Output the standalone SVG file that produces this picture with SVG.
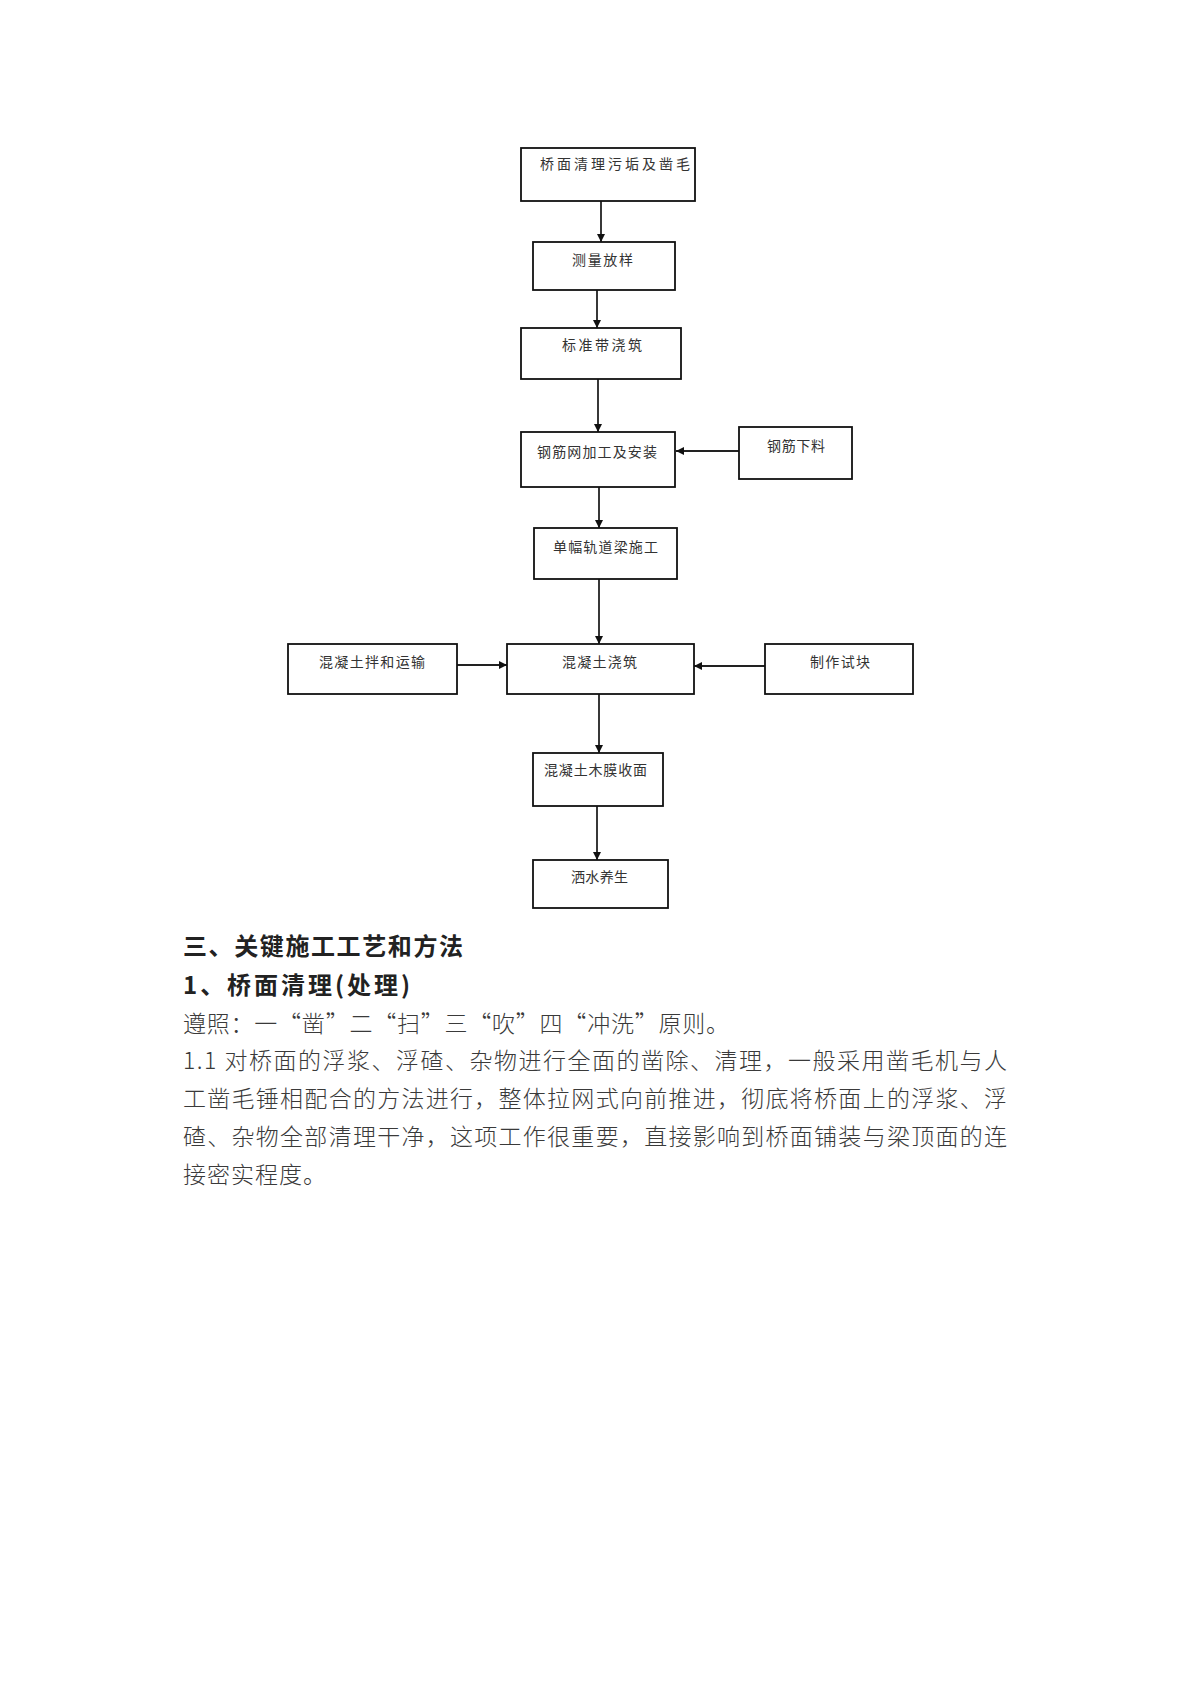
<svg xmlns="http://www.w3.org/2000/svg" width="1200" height="1697" viewBox="0 0 1200 1697">
<defs>
<marker id="ah" markerWidth="10" markerHeight="10" refX="9" refY="5" orient="auto" markerUnits="userSpaceOnUse">
<path d="M1,1 L9,5 L1,9 Z" fill="#111"/>
</marker>
<style>
.box{fill:#fff;stroke:#111;stroke-width:1.8}
.bt{font-family:"Noto Sans CJK SC","Noto Sans",sans-serif;font-size:14px;fill:#333}
.ln{stroke:#222;stroke-width:1.8;fill:none;marker-end:url(#ah)}
.h{font-family:"Noto Sans CJK SC","Noto Sans",sans-serif;font-size:24px;font-weight:bold;fill:#222}
.p{font-family:"Noto Sans CJK SC","Noto Sans",sans-serif;font-size:23px;font-weight:300;fill:#3a3a3a}
</style>
</defs>
<rect width="1200" height="1697" fill="#fff"/>
<g id="connectors">
<line class="ln" x1="601" y1="201" x2="601" y2="242"/>
<line class="ln" x1="597" y1="290" x2="597" y2="328"/>
<line class="ln" x1="598" y1="379" x2="598" y2="432"/>
<line class="ln" x1="739" y1="451" x2="676" y2="451"/>
<line class="ln" x1="599" y1="487" x2="599" y2="528"/>
<line class="ln" x1="599" y1="579" x2="599" y2="644"/>
<line class="ln" x1="457" y1="665" x2="507" y2="665"/>
<line class="ln" x1="765" y1="666" x2="694" y2="666"/>
<line class="ln" x1="599" y1="694" x2="599" y2="753"/>
<line class="ln" x1="597" y1="806" x2="597" y2="860"/>
</g>
<g id="n1"><rect class="box" x="521" y="148" width="174" height="53"/><text class="bt" x="540" y="169" textLength="150" lengthAdjust="spacing">桥面清理污垢及凿毛</text></g>
<g id="n2"><rect class="box" x="533" y="242" width="142" height="48"/><text class="bt" x="572" y="265" textLength="61" lengthAdjust="spacing">测量放样</text></g>
<g id="n3"><rect class="box" x="521" y="328" width="160" height="51"/><text class="bt" x="562" y="350" textLength="80" lengthAdjust="spacing">标准带浇筑</text></g>
<g id="n4"><rect class="box" x="521" y="432" width="154" height="55"/><text class="bt" x="537" y="457" textLength="120" lengthAdjust="spacing">钢筋网加工及安装</text></g>
<g id="n5"><rect class="box" x="739" y="427" width="113" height="52"/><text class="bt" x="767" y="451" textLength="58" lengthAdjust="spacing">钢筋下料</text></g>
<g id="n6"><rect class="box" x="534" y="528" width="143" height="51"/><text class="bt" x="553" y="552" textLength="105" lengthAdjust="spacing">单幅轨道梁施工</text></g>
<g id="n7"><rect class="box" x="288" y="644" width="169" height="50"/><text class="bt" x="319" y="667" textLength="106" lengthAdjust="spacing">混凝土拌和运输</text></g>
<g id="n8"><rect class="box" x="507" y="644" width="187" height="50"/><text class="bt" x="562" y="667" textLength="75" lengthAdjust="spacing">混凝土浇筑</text></g>
<g id="n9"><rect class="box" x="765" y="644" width="148" height="50"/><text class="bt" x="810" y="667" textLength="60" lengthAdjust="spacing">制作试块</text></g>
<g id="n10"><rect class="box" x="533" y="753" width="130" height="53"/><text class="bt" x="544" y="775" textLength="103" lengthAdjust="spacing">混凝土木膜收面</text></g>
<g id="n11"><rect class="box" x="533" y="860" width="135" height="48"/><text class="bt" x="571" y="882" textLength="57" lengthAdjust="spacing">洒水养生</text></g>
<g id="text">
<text class="h" x="183" y="955" textLength="280" lengthAdjust="spacing">三、关键施工工艺和方法</text>
<text class="h" x="183" y="994" textLength="227" lengthAdjust="spacing">1、桥面清理(处理)</text>
<text class="p" x="183" y="1032" textLength="546" lengthAdjust="spacing">遵照：一“凿”二“扫”三“吹”四“冲洗”原则。</text>
<text class="p" x="183" y="1069" textLength="824" lengthAdjust="spacing">1.1 对桥面的浮浆、浮碴、杂物进行全面的凿除、清理，一般采用凿毛机与人</text>
<text class="p" x="183" y="1107" textLength="824" lengthAdjust="spacing">工凿毛锤相配合的方法进行，整体拉网式向前推进，彻底将桥面上的浮浆、浮</text>
<text class="p" x="183" y="1145" textLength="824" lengthAdjust="spacing">碴、杂物全部清理干净，这项工作很重要，直接影响到桥面铺装与梁顶面的连</text>
<text class="p" x="183" y="1183" textLength="143" lengthAdjust="spacing">接密实程度。</text>
</g>
</svg>
